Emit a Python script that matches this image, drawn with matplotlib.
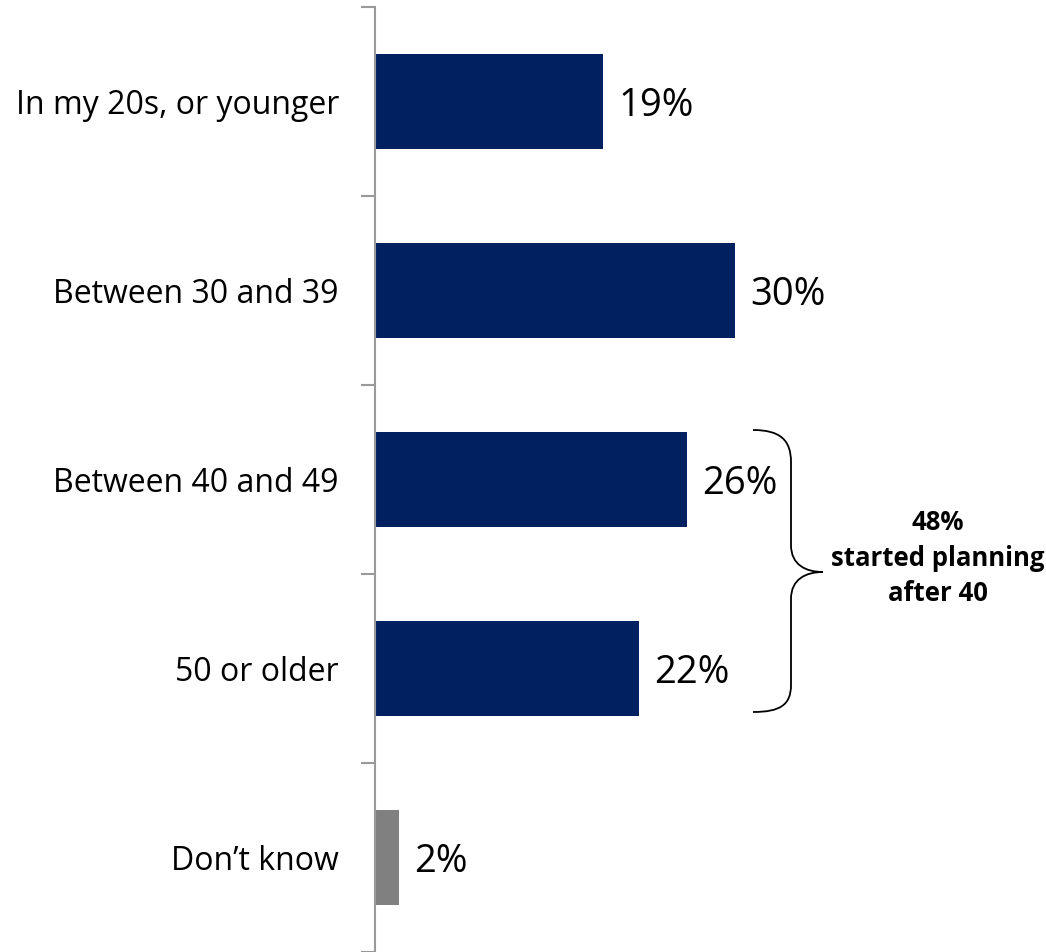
import matplotlib
matplotlib.use("Agg")
import matplotlib.pyplot as plt
from matplotlib.path import Path
from matplotlib.patches import PathPatch

categories = ["In my 20s, or younger", "Between 30 and 39", "Between 40 and 49",
              "50 or older", "Don\u2019t know"]
values = [19, 30, 26, 22, 2]
labels = ["19%", "30%", "26%", "22%", "2%"]
colors = ["#002060", "#002060", "#002060", "#002060", "#808080"]
brace_text = "48%\nstarted planning\nafter 40"

plt.rcParams['font.family'] = ['Open Sans', 'DejaVu Sans']

fig = plt.figure(figsize=(10.46, 9.52), dpi=100)
ax = fig.add_axes([375/1046, 0.0, 1 - 375/1046, 1 - 7/952])

ypos = list(range(len(categories)))
ax.barh(ypos, values, height=0.5, color=colors)
ax.set_xlim(0, 671/12)
ax.set_ylim(len(categories) - 0.5, -0.5)

for y, v, lab in zip(ypos, values, labels):
    ax.text(v + 1.3, y, lab, va='center_baseline', ha='left', fontsize=27.5, color='black')

ax.set_yticks(ypos)
ax.set_yticklabels(categories, fontsize=23)
ax.tick_params(axis='y', which='major', length=0, pad=26)
ax.set_yticks([i - 0.5 for i in range(len(categories) + 1)], minor=True)
ax.tick_params(axis='y', which='minor', length=10, width=1.5, color='#999999')
ax.set_xticks([])
for s in ['top', 'right', 'bottom']:
    ax.spines[s].set_visible(False)
ax.spines['left'].set_color('#999999')
ax.spines['left'].set_linewidth(1.5)

# brace (in data units: x = px/12, y = px/189)
def P(px, py):
    return ((px - 375) / 12, (py - 7) / 189 - 0.5)

verts = [P(753, 430),
         P(780, 430), P(791, 440), P(791, 462),
         P(791, 545),
         P(791, 565), P(806, 572), P(823, 572),
         P(806, 572), P(791, 579), P(791, 599),
         P(791, 685),
         P(791, 705), P(780, 712), P(753, 712)]
codes = [Path.MOVETO,
         Path.CURVE4, Path.CURVE4, Path.CURVE4,
         Path.LINETO,
         Path.CURVE4, Path.CURVE4, Path.CURVE4,
         Path.CURVE4, Path.CURVE4, Path.CURVE4,
         Path.LINETO,
         Path.CURVE4, Path.CURVE4, Path.CURVE4]
ax.add_patch(PathPatch(Path(verts, codes), facecolor='none', edgecolor='black', lw=1.3))

bx, by = P(938, 558)
ax.text(bx, by, brace_text, ha='center', va='center', fontsize=18.5,
        fontweight='bold', linespacing=1.4)

fig.savefig("out.png", dpi=100)
